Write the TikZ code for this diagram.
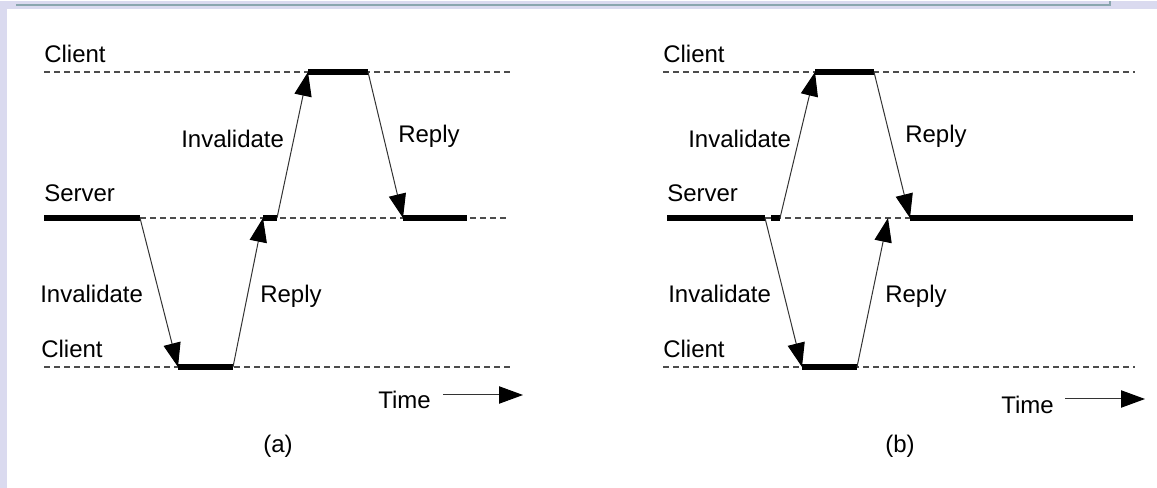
\documentclass[tikz,border=0pt]{standalone}
\usepackage{fontspec}
\setmainfont{Liberation Sans}
\usetikzlibrary{positioning, calc, arrows.meta}
\definecolor{pagelav}{HTML}{DADAEF}
\definecolor{framerule}{HTML}{8AA6AE}
\tikzstyle{Msg} = [draw=black!80, line width=0.75pt,
-{Triangle[length=18pt, width=13pt, black]}]
\tikzstyle{Busy} = [line width=4pt]
\tikzstyle{Idle} = [draw=black!70, line width=0.9pt, dash pattern=on 4.5pt off 3pt]
\tikzstyle{Lbl} = [anchor=base west, inner sep=0pt, font=\fontsize{18}{20}\selectfont]

\begin{document}
\begin{tikzpicture}[x=0.75pt, y=-0.75pt]
    % page frame
    \fill[pagelav] (0,0) rectangle (1157,487);
    \fill[white] (7,8) rectangle (1157,487);
    \draw[framerule, line width=1.5pt] (16,4) -- (1110,4) -- (1110,0);
    \useasboundingbox (0,0) rectangle (1157,487);

    % (a)
    \coordinate (aTs) at (44,71);
    \coordinate (aTe) at (510,71);
    \coordinate (aT1) at (308,71);
    \coordinate (aT2) at (368,71);
    \coordinate (aSs) at (44,217);
    \coordinate (aSb) at (140,217);
    \coordinate (aSe) at (510,217);
    \coordinate (aS1) at (263,217);
    \coordinate (aS2) at (277,217);
    \coordinate (aS3) at (403,217);
    \coordinate (aS4) at (467,217);
    \coordinate (aBs) at (44,366);
    \coordinate (aBe) at (510,366);
    \coordinate (aB1) at (178,366);
    \coordinate (aB2) at (233,366);

    \draw[Idle] (aTs) -- (aTe);
    \draw[Idle] (aSb) -- (aSe);
    \draw[Idle] (aBs) -- (aBe);
    \draw[Busy] (aT1) -- (aT2);
    \draw[Busy] (aSs) -- (aSb);
    \draw[Busy] (aS1) -- (aS2);
    \draw[Busy] (aS3) -- (aS4);
    \draw[Busy] (aB1) -- (aB2);

    \draw[Msg] (aSb) -- (aB1);
    \draw[Msg] (aB2) -- (aS1);
    \draw[Msg] (aS2) -- (aT1);
    \draw[Msg] (aT2) -- (aS3);

    \node[Lbl] (aclient1) at (44,62) {Client};
    \node[Lbl] (aserver) at (44,201) {Server};
    \node[Lbl] (aclient2) at (41,357) {Client};
    \node[Lbl] (ainv1) at (40,302) {Invalidate};
    \node[Lbl] (arep1) at (260,302) {Reply};
    \node[Lbl] (ainv2) at (181,147) {Invalidate};
    \node[Lbl] (arep2) at (398,142) {Reply};
    \node[Lbl] (atime) at (378,407) {Time};
    \coordinate (at1) at (443,394);
    \coordinate (at2) at (523,394);
    \draw[Msg] (at1) -- (at2);
    \node[Lbl] (acap) at (263,451) {(a)};

    % (b)
    \coordinate (bTs) at (663,71);
    \coordinate (bTe) at (1135,71);
    \coordinate (bT1) at (815,71);
    \coordinate (bT2) at (874,71);
    \coordinate (bSs) at (667,217);
    \coordinate (bSb) at (765,217);
    \coordinate (bSe) at (1133,217);
    \coordinate (bS1) at (771,217);
    \coordinate (bS2) at (780,217);
    \coordinate (bS3) at (888,217);
    \coordinate (bS4) at (910,217);
    \coordinate (bBs) at (663,366);
    \coordinate (bBe) at (1135,366);
    \coordinate (bB1) at (802,366);
    \coordinate (bB2) at (857,366);

    \draw[Idle] (bTs) -- (bTe);
    \draw[Idle] (bSb) -- (bS4);
    \draw[Idle] (bBs) -- (bBe);
    \draw[Busy] (bT1) -- (bT2);
    \draw[Busy] (bSs) -- (bSb);
    \draw[Busy] (bS1) -- (bS2);
    \draw[Busy] (bS4) -- (bSe);
    \draw[Busy] (bB1) -- (bB2);

    \draw[Msg] (bSb) -- (bB1);
    \draw[Msg] (bS2) -- (bT1);
    \draw[Msg] (bT2) -- (bS4);
    \draw[Msg] (bB2) -- (bS3);

    \node[Lbl] (bclient1) at (663,62) {Client};
    \node[Lbl] (bserver) at (667,201) {Server};
    \node[Lbl] (bclient2) at (663,357) {Client};
    \node[Lbl] (binv1) at (668,302) {Invalidate};
    \node[Lbl] (brep1) at (885,302) {Reply};
    \node[Lbl] (binv2) at (688,147) {Invalidate};
    \node[Lbl] (brep2) at (905,142) {Reply};
    \node[Lbl] (btime) at (1001,412) {Time};
    \coordinate (bt1) at (1065,398);
    \coordinate (bt2) at (1145,398);
    \draw[Msg] (bt1) -- (bt2);
    \node[Lbl] (bcap) at (885,451) {(b)};
\end{tikzpicture}
\end{document}
